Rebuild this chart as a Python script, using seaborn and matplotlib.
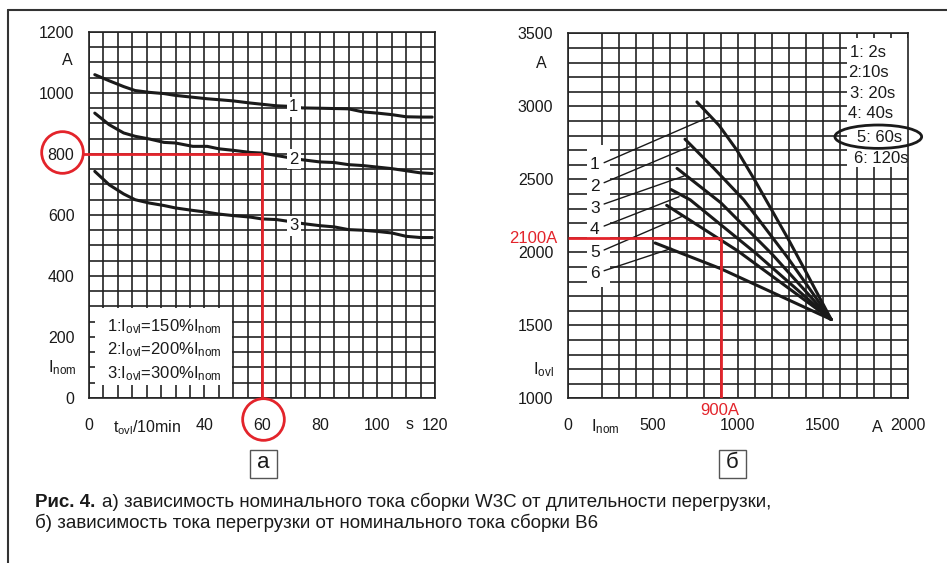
import numpy as np
import pandas as pd
import matplotlib
matplotlib.use("Agg")
import matplotlib.pyplot as plt
import seaborn as sns
from matplotlib.patches import Rectangle, Ellipse
from matplotlib.lines import Line2D

# ---------------- data: panel a ----------------
t_a = [2, 7, 12, 16, 21, 26, 30, 36, 41, 45, 50, 56, 60, 65, 70, 74, 80, 85, 90, 95, 100, 105, 110, 115, 119]
i_a1 = [1060, 1040, 1021, 1008, 1002, 998, 992, 986, 981, 978, 974, 967, 963, 958, 956, 951, 950, 949, 948, 938, 934, 929, 922, 921, 921]
i_a2 = [934, 896, 869, 858, 849, 838, 836, 825, 825, 817, 812, 805, 803, 795, 787, 781, 774, 772, 765, 762, 757, 752, 745, 738, 736]
i_a3 = [743, 699, 669, 650, 639, 631, 623, 615, 609, 603, 598, 593, 587, 585, 578, 572, 565, 561, 552, 550, 546, 541, 530, 526, 526]
labels_a = ["1", "2", "3"]
legend_a = [r"1:I$_{\mathrm{ovl}}$=150%I$_{\mathrm{nom}}$",
            r"2:I$_{\mathrm{ovl}}$=200%I$_{\mathrm{nom}}$",
            r"3:I$_{\mathrm{ovl}}$=300%I$_{\mathrm{nom}}$"]
xticks_a = [0, 20, 40, 60, 80, 100, 120]
xticklabels_a = ["0", r"t$_{\mathrm{ovl}}$/10min", "40", "60", "80", "100", "120"]
yticks_a = [0, 200, 400, 600, 800, 1000, 1200]

# ---------------- data: panel b ----------------
inom_1 = [760, 890, 995, 1100, 1200, 1300, 1395, 1550]
iovl_1 = [3030, 2870, 2700, 2495, 2290, 2085, 1880, 1540]
inom_2 = [690, 860, 1035, 1290, 1550]
iovl_2 = [2775, 2575, 2360, 1970, 1540]
inom_3 = [643, 900, 1200, 1550]
iovl_3 = [2575, 2340, 1990, 1540]
inom_4 = [608, 720, 1100, 1550]
iovl_4 = [2430, 2360, 2000, 1540]
inom_5 = [582, 1000, 1550]
iovl_5 = [2322, 2010, 1540]
inom_6 = [514, 896, 1550]
iovl_6 = [2064, 1890, 1540]
legend_b = ["1: 2s", "2:10s", "3: 20s", "4: 40s", "5: 60s", "6: 120s"]
xticks_b = [0, 500, 1000, 1500, 2000]
yticks_b = [1000, 1500, 2000, 2500, 3000, 3500]

caption_bold = "Рис. 4."
caption_1 = "а) зависимость номинального тока сборки W3C от длительности перегрузки,"
caption_2 = "б) зависимость тока перегрузки от номинального тока сборки B6"

# ---------------- style ----------------
sns.set_theme(style="white")
plt.rcParams["font.family"] = ["Liberation Sans", "DejaVu Sans"]
plt.rcParams["mathtext.fontset"] = "custom"
plt.rcParams["mathtext.rm"] = "Liberation Sans"
plt.rcParams["mathtext.it"] = "Liberation Sans:italic"
plt.rcParams["mathtext.bf"] = "Liberation Sans:bold"

INK = "#1a1a1a"
GRID = "#222222"
RED = "#e3242b"
FS = 11.5
FS2 = 12

fig = plt.figure(figsize=(9.47, 5.63), dpi=100)
fig.patch.set_facecolor("white")
axL = fig.add_axes([0.0940, 0.2931, 0.3654, 0.6501])
axR = fig.add_axes([0.5995, 0.2925, 0.3590, 0.6483])


def style(ax, xlim, ylim, xmaj, ymaj, xmin, ymin):
    ax.set_xlim(*xlim)
    ax.set_ylim(*ylim)
    ax.set_xticks(xmaj)
    ax.set_yticks(ymaj)
    ax.set_xticks(xmin, minor=True)
    ax.set_yticks(ymin, minor=True)
    ax.set_axisbelow(True)
    ax.grid(True, which="both", color=GRID, lw=1.2)
    ax.tick_params(which="major", length=6, width=1.2, color=GRID, direction="out",
                   labelsize=FS, labelcolor=INK)
    ax.tick_params(axis="x", which="major", pad=8.5)
    ax.tick_params(axis="y", which="major", pad=4.5)
    ax.tick_params(which="minor", length=0)
    for s in ax.spines.values():
        s.set_visible(True)
        s.set_color(GRID)
        s.set_linewidth(1.2)
    ax.set_xlabel("")
    ax.set_ylabel("")
    ax.set_facecolor("white")


# ---------------- panel a ----------------
n = len(t_a)
df_a = pd.DataFrame({"t": t_a * 3, "I": i_a1 + i_a2 + i_a3,
                     "curve": [labels_a[0]] * n + [labels_a[1]] * n + [labels_a[2]] * n})
sns.lineplot(data=df_a, x="t", y="I", hue="curve", palette=[INK] * 3, lw=2.2,
             legend=False, sort=False, estimator=None, ax=axL, zorder=3)
style(axL, (0, 120), (0, 1200), xticks_a, yticks_a,
      np.arange(0, 121, 5), np.arange(0, 1201, 50))
axL.set_xticklabels(xticklabels_a)

# legend box
axL.add_patch(Rectangle((2, 42), 47.5, 253, facecolor="white", edgecolor="none", zorder=1.5))
for txt, y in zip(legend_a, [234, 157, 79]):
    axL.text(6.4, y, txt, fontsize=FS2, color=INK, ha="left", va="center", zorder=4)

# curve labels
for lab, y in zip(labels_a, [955, 783, 564]):
    axL.text(71, y, lab, fontsize=12, color=INK, ha="center", va="center", zorder=5,
             bbox=dict(boxstyle="square,pad=0.15", fc="white", ec="none"))

axL.text(-7.6, 1105, "A", fontsize=FS, color=INK, ha="center", va="center")
axL.text(-9.4, 98, r"I$_{\mathrm{nom}}$", fontsize=FS2, color=INK, ha="center", va="center")
axL.text(111, -88, "s", fontsize=FS, color=INK, ha="center", va="center")

# red reading lines + circles
axL.plot([-2.2, 60], [800, 800], color=RED, lw=2, clip_on=False, zorder=4, solid_capstyle="butt")
axL.plot([60, 60], [800, 0], color=RED, lw=2, clip_on=False, zorder=4, solid_capstyle="butt")
axL.plot([-9.5], [807], marker="o", ms=30, mfc="none", mec=RED, mew=2, clip_on=False, zorder=4)
axL.plot([60.2], [-69], marker="o", ms=30, mfc="none", mec=RED, mew=2, clip_on=False, zorder=4)

# ---------------- panel b ----------------
curves_b = [(inom_1, iovl_1), (inom_2, iovl_2), (inom_3, iovl_3),
            (inom_4, iovl_4), (inom_5, iovl_5), (inom_6, iovl_6)]
rows = []
for k, (xs, ys) in enumerate(curves_b):
    for x, y in zip(xs, ys):
        rows.append({"Inom": x, "Iovl": y, "curve": str(k + 1)})
df_b = pd.DataFrame(rows)
sns.lineplot(data=df_b, x="Inom", y="Iovl", hue="curve", palette=[INK] * 6, lw=2.2,
             legend=False, sort=False, estimator=None, ax=axR, zorder=3)
style(axR, (0, 2000), (1000, 3500), xticks_b, yticks_b,
      np.arange(200, 2001, 100), np.arange(1000, 3501, 100))

# white panels
axR.add_patch(Rectangle((113, 1762), 136, 973, facecolor="white", edgecolor="none", zorder=1.5))
axR.add_patch(Rectangle((1642, 2586), 358, 884, facecolor="white", edgecolor="none", zorder=1.5))

# legend texts
for txt, x, y in zip(legend_b, [1660, 1650, 1658, 1648, 1700, 1685],
                     [3367, 3233, 3089, 2952, 2788, 2644]):
    axR.text(x, y, txt, fontsize=FS2, color=INK, ha="left", va="center", zorder=4)
axR.add_patch(Ellipse((1827, 2792), 510, 160, fill=False, ec=INK, lw=2, zorder=5, clip_on=False))

# curve number labels + leader lines
lab_y = [2603, 2449, 2301, 2153, 1997, 1856]
lead_start = [2614, 2477, 2331, 2180, 2016, 1874]
lead_end = [(828, 2925), (715, 2723), (685, 2523), (655, 2381), (680, 2250), (611, 2027)]
for k in range(6):
    axR.text(160, lab_y[k], str(k + 1), fontsize=12.5, color=INK, ha="center", va="center", zorder=4)
    axR.annotate("", xy=lead_end[k], xytext=(214, lead_start[k]),
                 arrowprops=dict(arrowstyle="-", lw=1, color=INK, shrinkA=0, shrinkB=0), zorder=4)

axR.text(-157, 3290, "A", fontsize=FS, color=INK, ha="center", va="center")
axR.text(-145, 1194, r"I$_{\mathrm{ovl}}$", fontsize=FS2, color=INK, ha="center", va="center")
axR.text(220, 803, r"I$_{\mathrm{nom}}$", fontsize=FS2, color=INK, ha="center", va="center")
axR.text(1820, 797, "A", fontsize=FS, color=INK, ha="center", va="center")

axR.plot([0, 900], [2100, 2100], color=RED, lw=2, zorder=4, solid_capstyle="butt")
axR.plot([900, 900], [2100, 1000], color=RED, lw=2, zorder=4, solid_capstyle="butt")
axR.text(-63, 2098, "2100A", fontsize=FS2, color=RED, ha="right", va="center")
axR.text(896, 920, "900A", fontsize=FS2, color=RED, ha="center", va="center")

# ---------------- panel tags, frame, caption ----------------
for cx, tag in [(263.5, "а"), (732.5, "б")]:
    fig.add_artist(Rectangle(((cx - 13.5) / 947, 1 - 477.5 / 563), 27 / 947, 28 / 563,
                             transform=fig.transFigure, fill=False, ec="#555555", lw=1))
    fig.text(cx / 947, 1 - 463 / 563, tag, fontsize=16, color=INK, ha="center", va="center")

fig.add_artist(Line2D([8 / 947, 8 / 947], [0, 1 - 10 / 563], transform=fig.transFigure,
                      color="#333333", lw=1.5))
fig.add_artist(Line2D([8 / 947, 1], [1 - 10 / 563, 1 - 10 / 563], transform=fig.transFigure,
                      color="#333333", lw=1.5))

cap_font = ["Liberation Sans", "DejaVu Sans"]
tb = fig.text(35 / 947, 1 - 507 / 563, caption_bold, fontsize=13.5, fontweight="bold",
              family=cap_font, color=INK, ha="left", va="baseline")
fig.canvas.draw()
bb = tb.get_window_extent()
fig.text((bb.x1 + 7) / 947, 1 - 507 / 563, caption_1, fontsize=13.5, family=cap_font,
         color=INK, ha="left", va="baseline")
fig.text(35 / 947, 1 - 528 / 563, caption_2, fontsize=13.5, family=cap_font,
         color=INK, ha="left", va="baseline")

fig.savefig("out.png", dpi=100, facecolor="white")
